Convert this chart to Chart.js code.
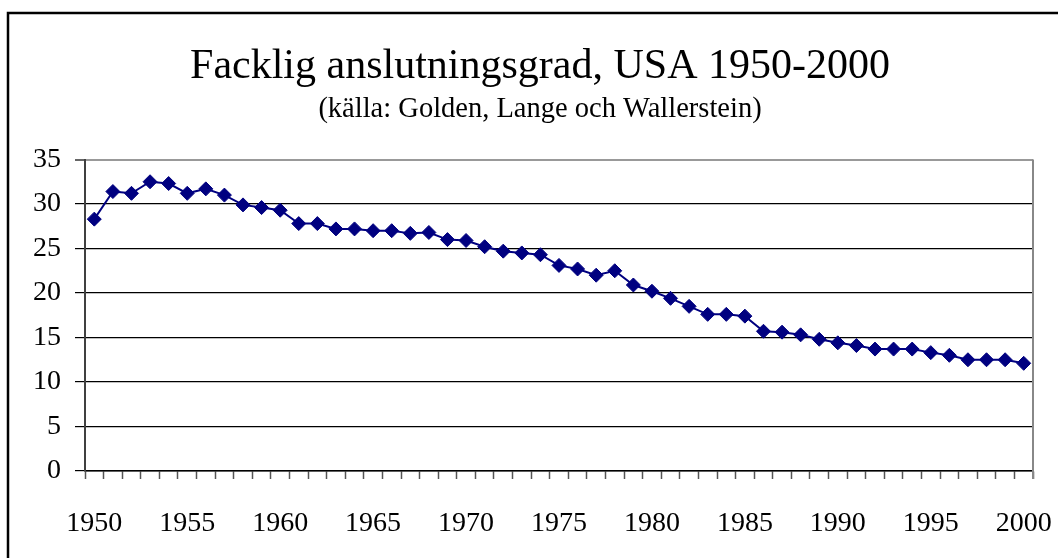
<!DOCTYPE html>
<html>
<head>
<meta charset="utf-8">
<script src="https://cdn.jsdelivr.net/npm/chart.js@4"></script>
<style>
  body { margin: 0; background: #fff; }
</style>
</head>
<body>
<canvas id="myChart" width="1058" height="558"></canvas>
<script>
"use strict";

// years on the x axis
var years = [];
for (var y = 1950; y <= 2000; y++) years.push(String(y));

// union density, percent
var density = [
    28.3, 31.4, 31.2, 32.5, 32.3, 31.2, 31.7, 31.0, 29.9, 29.6,
    29.3, 27.8, 27.8, 27.2, 27.2, 27.0, 27.0, 26.7, 26.8, 26.0,
    25.9, 25.2, 24.7, 24.5, 24.3, 23.1, 22.7, 22.0, 22.5, 20.9,
    20.2, 19.4, 18.5, 17.6, 17.6, 17.4, 15.7, 15.6, 15.3, 14.8,
    14.4, 14.1, 13.7, 13.7, 13.7, 13.3, 13.0, 12.5, 12.5, 12.5,
    12.1
];

var titleText = "Facklig anslutningsgrad, USA 1950-2000";
var subtitleText = "(källa: Golden, Lange och Wallerstein)";

var serif = "'Liberation Serif', 'Times New Roman', serif";

// outer frame and the grey right edge of the plot
var framePlugin = {
    id: 'frame',
    afterDraw: function (chart) {
        var c = chart.ctx, a = chart.chartArea;
        c.save();
        c.strokeStyle = '#888';
        c.lineWidth = 2;
        c.beginPath();
        c.moveTo(a.right, a.top);
        c.lineTo(a.right, a.bottom + 8);
        c.stroke();
        c.strokeStyle = '#000';
        c.lineWidth = 2.5;
        c.beginPath();
        c.moveTo(8, 558);
        c.lineTo(8, 13);
        c.lineTo(1058, 13);
        c.stroke();
        c.restore();
    }
};

var ctx = document.getElementById('myChart').getContext('2d');
var chart = new Chart(ctx, {
    type: 'line',
    data: {
        labels: years,
        datasets: [{
            data: density,
            borderColor: '#000080',
            backgroundColor: '#000080',
            borderWidth: 2,
            pointStyle: 'rectRot',
            pointRadius: 7,
            pointBorderWidth: 1,
            pointBackgroundColor: '#000080',
            pointBorderColor: '#000080',
            tension: 0
        }]
    },
    options: {
        responsive: false,
        animation: false,
        layout: { padding: { left: 22, right: 0, top: 0, bottom: 0 } },
        plugins: {
            legend: { display: false },
            tooltip: { enabled: false },
            title: {
                display: true,
                text: titleText,
                color: '#000',
                font: { family: serif, size: 42, weight: 'normal', lineHeight: 1 },
                padding: { top: 46, bottom: 0 }
            },
            subtitle: {
                display: true,
                text: subtitleText,
                color: '#000',
                font: { family: serif, size: 28.5, weight: 'normal', lineHeight: 1 },
                padding: { top: 7, bottom: 36 }
            }
        },
        scales: {
            x: {
                offset: true,
                grid: {
                    offset: true,
                    drawOnChartArea: false,
                    drawTicks: true,
                    tickLength: 8,
                    tickColor: '#555',
                    tickWidth: 1.5
                },
                border: { display: true, color: '#000', width: 1.5 },
                ticks: {
                    autoSkip: false,
                    maxRotation: 0,
                    padding: 28,
                    color: '#000',
                    font: { family: serif, size: 28 },
                    callback: function (val, i) {
                        var lab = this.getLabelForValue(val);
                        return (Number(lab) % 5 === 0) ? lab : '';
                    }
                },
                afterFit: function (scale) {
                    scale.height = 87;
                    scale.paddingLeft = 0;
                    scale.paddingRight = 25;
                }
            },
            y: {
                min: 0,
                max: 35,
                ticks: {
                    stepSize: 5,
                    padding: 14,
                    color: '#000',
                    font: { family: serif, size: 28 }
                },
                grid: {
                    color: function (c) { return c.tick && c.tick.value === 35 ? '#999' : '#000'; },
                    lineWidth: function (c) { return c.tick && c.tick.value === 35 ? 2 : 1.2; },
                    tickColor: '#000',
                    tickLength: 10,
                    tickWidth: 1.2
                },
                border: { display: true, color: '#404040', width: 2 },
                afterFit: function (scale) { scale.width = 63; }
            }
        }
    },
    plugins: [framePlugin]
});
</script>
</body>
</html>
